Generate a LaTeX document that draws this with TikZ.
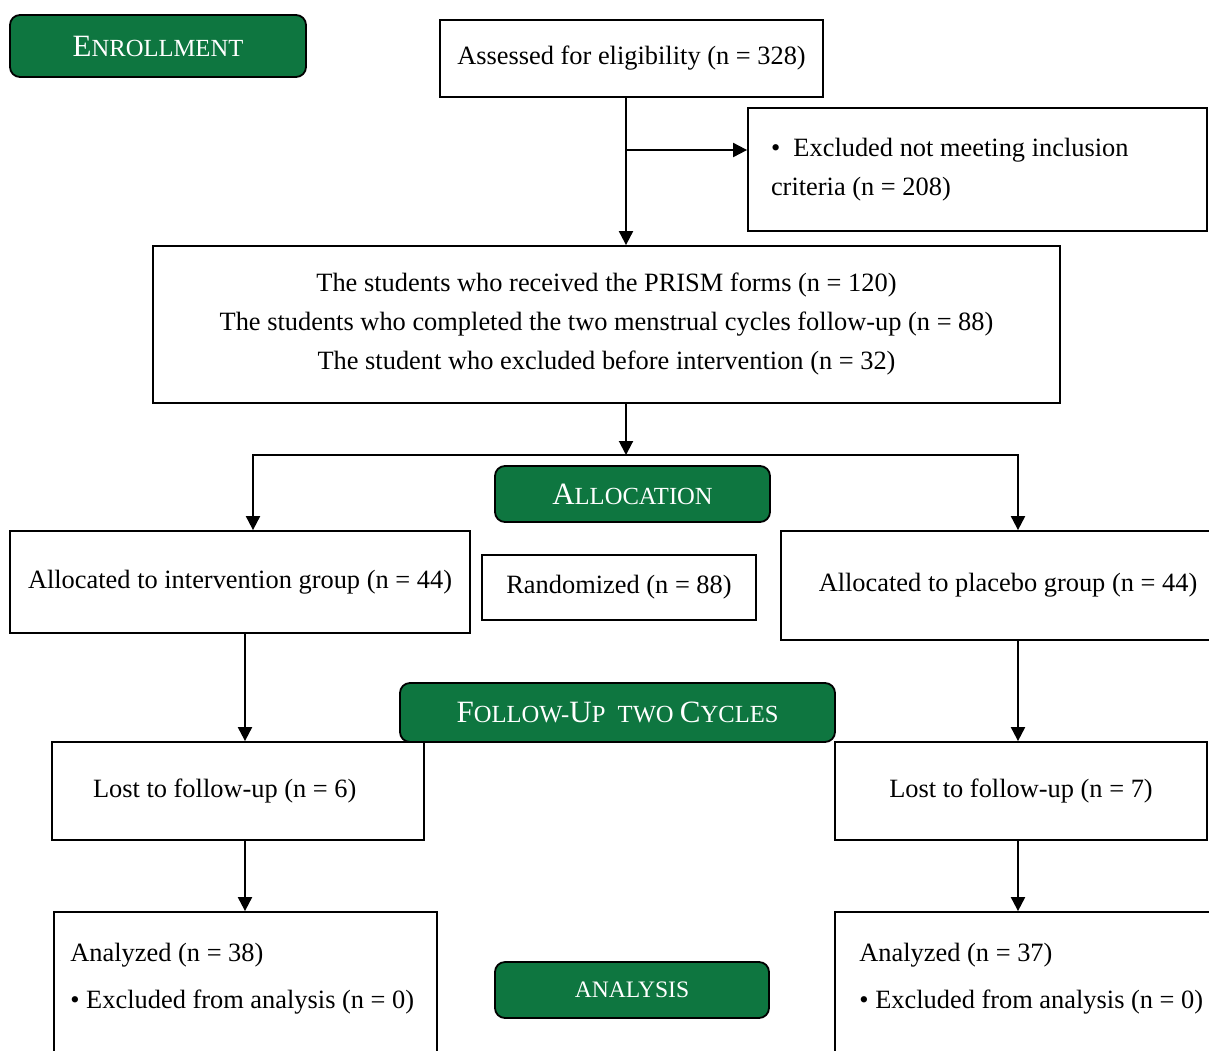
\documentclass[tikz,border=0pt]{standalone}
\usepackage{fontspec}
\setmainfont{Liberation Serif}
\usetikzlibrary{arrows.meta}
\definecolor{consortgreen}{RGB}{14,118,64}
\newcommand{\capbig}{\fontsize{15.5}{18}\selectfont}
\newcommand{\capsmall}{\fontsize{12.3}{14}\selectfont}

\begin{document}
\begin{tikzpicture}[x=0.5pt,y=-0.5pt,
        every node/.style={font=\fontsize{13.2}{19.5}\selectfont},
        box/.style={draw, line width=0.9pt, align=center, inner sep=0pt},
        phase/.style={draw, line width=0.9pt, fill=consortgreen, rounded corners=5pt, text=white, inner sep=0pt},
        arr/.style={-{Triangle[length=7pt,width=7pt]}, line width=1pt}]
        \useasboundingbox (0,0) rectangle (1209,1050);
        \node[phase, minimum width=148pt, minimum height=31pt] (enroll) at (158,46) {\capbig E\capsmall NROLLMENT};
        \node[box, minimum width=191.5pt, minimum height=38.5pt] (assess) at (631.5,58.5) {Assessed for eligibility (n = 328)};
        \node[box, minimum width=229.5pt, minimum height=61.5pt, text width=206.5pt, align=flush left] (excl) at (977.5,169.5) {•\ \ Excluded not meeting inclusion\\criteria (n = 208)};
        \node[box, minimum width=453.5pt, minimum height=78.5pt] (prism) at (606.5,324.5) {The students who received the PRISM forms (n = 120)\\The students who completed the two menstrual cycles follow-up (n = 88)\\The student who excluded before intervention (n = 32)};
        \node[phase, minimum width=137.5pt, minimum height=28pt] (alloc) at (632.5,494) {\capbig A\capsmall LLOCATION};
        \node[box, minimum width=230pt, minimum height=51pt] (intv) at (240,582) {Allocated to intervention group (n = 44)};
        \node[box, minimum width=137pt, minimum height=32.5pt] (rand) at (619,587.5) {Randomized (n = 88)};
        \node[box, minimum width=227pt, minimum height=54.5pt] (plac) at (1008,585.5) {Allocated to placebo group (n = 44)};
        \node[phase, minimum width=217.5pt, minimum height=29.5pt] (follow) at (617.5,712.5) {\capbig F\capsmall OLLOW-\capbig U\capsmall P\ \ TWO \capbig C\capsmall YCLES};
        \node[box, minimum width=186pt, minimum height=49pt, text width=145pt, align=flush left] (lostL) at (238,791) {Lost to follow-up (n = 6)};
        \node[box, minimum width=186pt, minimum height=49pt] (lostR) at (1021,791) {Lost to follow-up (n = 7)};
        \node[box, minimum width=191.5pt, minimum height=80pt] (anaL) at (245.5,992) {};
        \node[anchor=north west, align=left, inner sep=0pt] (anaLtxt) at (70,943) {Analyzed (n = 38)\\[4pt]• Excluded from analysis (n = 0)};
        \node[phase, minimum width=137pt, minimum height=28pt] (analysis) at (632,990) {\fontsize{11.8}{14}\selectfont ANALYSIS};
        \node[box, minimum width=200pt, minimum height=80pt] (anaR) at (1035,992) {};
        \node[anchor=north west, align=left, inner sep=0pt] (anaRtxt) at (859,943) {Analyzed (n = 37)\\[4pt]• Excluded from analysis (n = 0)};
        % connectors
        \coordinate (trunk) at (626,0);
        \coordinate (branch) at (626,150);
        \coordinate (split) at (626,455);
        \coordinate (colL) at (253,455);
        \coordinate (colR) at (1018,455);
        \coordinate (downL) at (245,0);
        \coordinate (downR) at (1018,0);
        \draw[arr] (assess.south -| trunk) -- (prism.north -| trunk);
        \draw[arr] (branch) -- (branch -| excl.west);
        \draw[arr] (prism.south -| split) -- (split);
        \draw[arr] (split) -| (intv.north -| colL);
        \draw[arr] (split) -| (plac.north -| colR);
        \draw[arr] (intv.south -| downL) -- (lostL.north -| downL);
        \draw[arr] (plac.south -| downR) -- (lostR.north -| downR);
        \draw[arr] (lostL.south -| downL) -- (anaL.north -| downL);
        \draw[arr] (lostR.south -| downR) -- (anaR.north -| downR);
\end{tikzpicture}
\end{document}
